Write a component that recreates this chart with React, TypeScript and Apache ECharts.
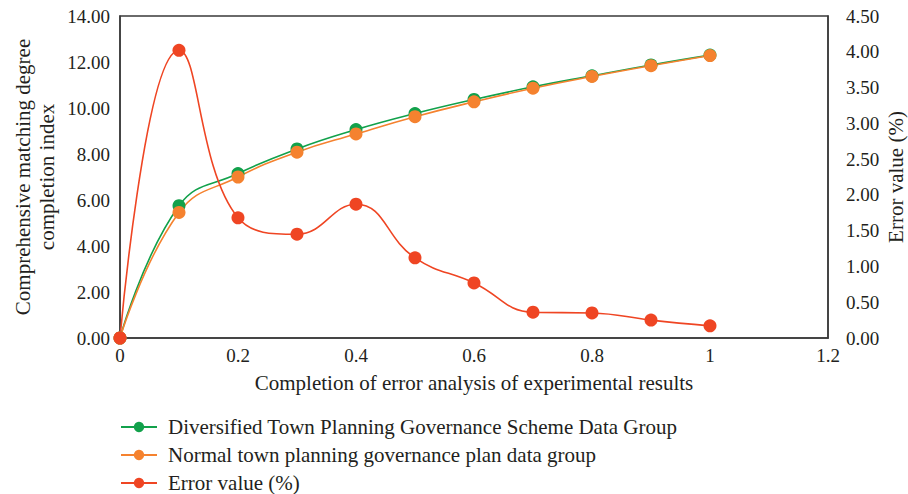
import React, { useEffect, useRef } from "react";
import * as echarts from "echarts";

const xValues = [0, 0.1, 0.2, 0.3, 0.4, 0.5, 0.6, 0.7, 0.8, 0.9, 1.0];
const diversifiedGroup = [0, 5.75, 7.15, 8.22, 9.06, 9.76, 10.37, 10.92, 11.4, 11.87, 12.3];
const normalGroup = [0, 5.46, 7.0, 8.08, 8.87, 9.62, 10.27, 10.86, 11.37, 11.84, 12.28];
const errorValue = [0, 4.02, 1.68, 1.45, 1.87, 1.12, 0.77, 0.36, 0.35, 0.25, 0.17];

const seriesNames = [
  "Diversified Town Planning Governance Scheme Data Group",
  "Normal town planning governance plan data group",
  "Error value (%)",
];
const colors = ["#12a14b", "#f5822f", "#ef4523"];

const FONT = "Liberation Serif";
const TEXT = "#231f20";
const TICK_SIZE = 19;
const TITLE_SIZE = 21;

export default function App() {
  const ref = useRef<HTMLDivElement>(null);
  useEffect(() => {
    if (!ref.current) return;
    const chart = echarts.init(ref.current, null, { renderer: "svg" });
    const pair = (ys: number[]) => xValues.map((x, i) => [x, ys[i]]);
    const mkSeries = (name: string, ys: number[], color: string, yAxisIndex: number) => ({
      name,
      type: "line",
      yAxisIndex,
      data: pair(ys),
      smooth: 0.45,
      symbol: "circle",
      symbolSize: 13,
      itemStyle: { color },
      lineStyle: { color, width: 1.6 },
    });
    chart.setOption({
      animation: false,
      textStyle: { fontFamily: FONT, color: TEXT },
      grid: {
        left: 120,
        top: 16,
        right: 80,
        bottom: 156,
        show: true,
        borderColor: "#3a3a3a",
        borderWidth: 1.5,
        outerBoundsMode: "none",
      },
      legend: {
        orient: "vertical",
        left: 120,
        top: 416,
        height: 120,
        padding: 0,
        itemWidth: 36,
        itemHeight: 13,
        itemGap: 6,
        textStyle: {
          fontFamily: FONT,
          fontSize: TITLE_SIZE,
          color: TEXT,
          lineHeight: 22,
          padding: [0, 0, 0, 6],
        },
        data: seriesNames,
      },
      xAxis: {
        type: "value",
        min: 0,
        max: 1.2,
        interval: 0.2,
        name: "Completion of error analysis of experimental results",
        nameLocation: "middle",
        nameGap: 34,
        nameMoveOverlap: false,
        nameTextStyle: { fontFamily: FONT, fontSize: TITLE_SIZE, color: TEXT },
        axisLine: { show: true, lineStyle: { color: "#3a3a3a", width: 1.5 } },
        axisTick: { show: false },
        splitLine: { show: false },
        axisLabel: { fontFamily: FONT, fontSize: TICK_SIZE, color: TEXT, margin: 8 },
      },
      yAxis: [
        {
          type: "value",
          min: 0,
          max: 14,
          interval: 2,
          name: "Comprehensive matching degree\ncompletion index",
          nameLocation: "middle",
          nameRotate: 90,
          nameGap: 61,
          nameMoveOverlap: false,
          nameTextStyle: { fontFamily: FONT, fontSize: TITLE_SIZE, color: TEXT, lineHeight: 24 },
          axisLine: { show: true, lineStyle: { color: "#3a3a3a", width: 1.5 } },
          axisTick: { show: false },
          splitLine: { show: false },
          axisLabel: {
            fontFamily: FONT,
            fontSize: TICK_SIZE,
            color: TEXT,
            margin: 10,
            formatter: (v: number) => v.toFixed(2),
          },
        },
        {
          type: "value",
          min: 0,
          max: 4.5,
          interval: 0.5,
          position: "right",
          name: "Error value (%)",
          nameLocation: "middle",
          nameRotate: 90,
          nameGap: 57,
          nameMoveOverlap: false,
          nameTextStyle: { fontFamily: FONT, fontSize: TITLE_SIZE, color: TEXT },
          axisLine: { show: true, lineStyle: { color: "#3a3a3a", width: 1.5 } },
          axisTick: { show: false },
          splitLine: { show: false },
          axisLabel: {
            fontFamily: FONT,
            fontSize: TICK_SIZE,
            color: TEXT,
            margin: 18,
            formatter: (v: number) => v.toFixed(2),
          },
        },
      ],
      series: [
        mkSeries(seriesNames[0], diversifiedGroup, colors[0], 0),
        mkSeries(seriesNames[1], normalGroup, colors[1], 0),
        mkSeries(seriesNames[2], errorValue, colors[2], 1),
      ],
    });
    return () => chart.dispose();
  }, []);
  return (
    <div
      ref={ref}
      style={{ position: "absolute", left: 0, top: 0, width: 908, height: 494 }}
    />
  );
}
